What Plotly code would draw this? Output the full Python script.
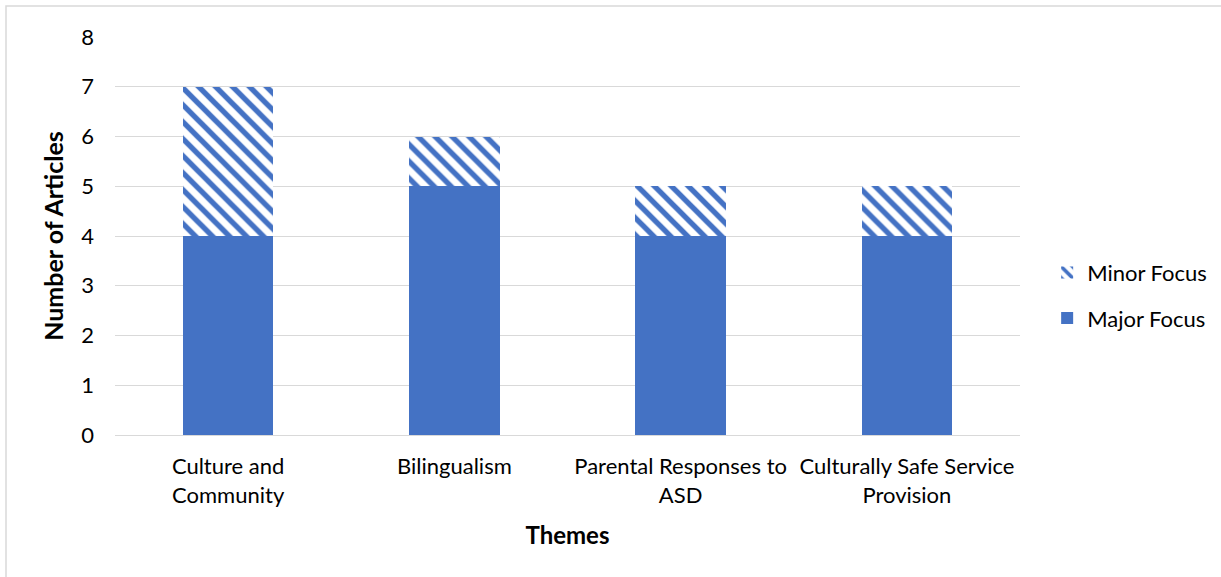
import plotly.graph_objects as go

categories = ["Culture and<br>Community", "Bilingualism", "Parental Responses to<br>ASD", "Culturally Safe Service<br>Provision"]
major_focus = [4, 5, 4, 4]
minor_focus = [3, 1, 1, 1]
y_ticks = [0, 1, 2, 3, 4, 5, 6, 7, 8]

BLUE = "#4472C4"
FONT = "Lato, Calibri, Carlito, sans-serif"

W, H = 1221, 577
L, R, T, B = 115, 201, 37, 142
pw, ph = W - L - R, H - T - B

fig = go.Figure()
fig.add_trace(go.Bar(x=categories, y=major_focus, name="Major Focus", legendgroup="a", legendrank=2,
                     marker=dict(color=BLUE, line=dict(width=0))))
fig.add_trace(go.Bar(x=categories, y=minor_focus, name="Minor Focus", legendgroup="b", legendrank=1,
                     marker=dict(color="white", line=dict(width=0),
                                 pattern=dict(shape="\\", fgcolor=BLUE, bgcolor="white",
                                              size=12, solidity=0.45, fillmode="replace"))))

fig.update_layout(
    width=W, height=H,
    margin=dict(l=L, r=R, t=T, b=B, autoexpand=False),
    barmode="stack", bargap=0.6,
    plot_bgcolor="white", paper_bgcolor="white",
    font=dict(family=FONT, size=22, color="#000000"),
    showlegend=True,
    legend=dict(traceorder="grouped", x=1.03, y=0.35, xanchor="left", yanchor="middle",
                font=dict(size=22), itemwidth=30, tracegroupgap=14),
    xaxis=dict(showline=False, ticks="", tickfont=dict(size=22), ticklabelstandoff=16,
               title=dict(text="<b>Themes</b>", font=dict(size=24), standoff=20)),
    yaxis=dict(range=[0, 8], tickvals=y_ticks, showgrid=True, gridcolor="#D9D9D9", gridwidth=1,
               zeroline=True, zerolinecolor="#D9D9D9", zerolinewidth=1,
               ticks="", ticklabelstandoff=20, tickfont=dict(size=22),
               title=dict(text="<b>Number of Articles</b>", font=dict(size=25), standoff=10)),
    shapes=[dict(type="rect", xref="paper", yref="paper",
                 x0=(6 - L) / pw, x1=(W + 10 - L) / pw,
                 y0=-(H + 10 - T - ph) / ph, y1=(H - 6 - B) / ph,
                 line=dict(color="#D9D9D9", width=1.5), fillcolor="rgba(0,0,0,0)", layer="below")],
)

fig.write_html("out.html")
